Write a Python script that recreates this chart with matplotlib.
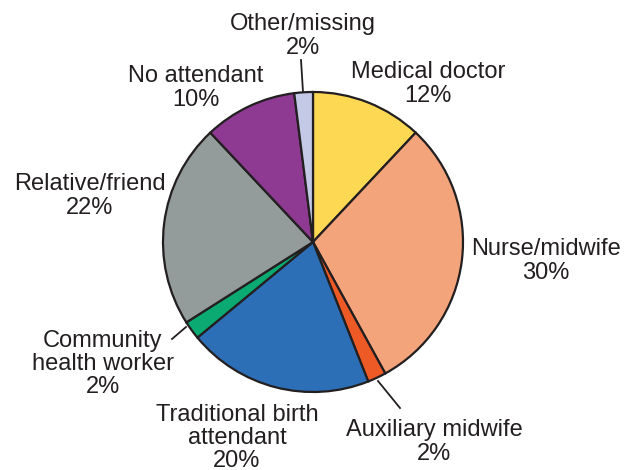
import matplotlib
matplotlib.use("Agg")
import matplotlib.pyplot as plt

labels = ["Medical doctor", "Nurse/midwife", "Auxiliary midwife",
          "Traditional birth\nattendant", "Community\nhealth worker",
          "Relative/friend", "No attendant", "Other/missing"]
shares = [12, 30, 2, 20, 2, 22, 10, 2]
colors = ["#FDD853", "#F4A47A", "#EE5A25", "#2C6FB7", "#0AAA72",
          "#939B9B", "#8E3A92", "#C4CAE6"]

# label placement in pixel coords (x, y from top)
label_pos = [(428, 84), (546, 261), (434, 442), (237, 438), (103, 364),
             (90, 196), (196, 88), (303, 36)]

W, H = 630, 470
plt.rcParams['font.family'] = ['Liberation Sans', 'DejaVu Sans']

fig = plt.figure(figsize=(6.3, 4.7), dpi=100)
ax = fig.add_axes([0, 0, 1, 1])

ax.pie(shares, colors=colors, startangle=90, counterclock=False,
       center=(313, H - 242), radius=150, frame=True,
       wedgeprops=dict(edgecolor="#231F20", linewidth=1.6))
ax.set_xlim(0, W)
ax.set_ylim(0, H)
ax.set_aspect('equal')
ax.axis('off')

for lab, s, (x, y) in zip(labels, shares, label_pos):
    ax.text(x, H - y, f"{lab}\n{s}%", ha='center', va='center',
            fontsize=17, color="#231F20", linespacing=1.07)

# leader lines
lc = dict(color="#231F20", lw=1.3)
ax.plot([301, 303], [H - 60, H - 92], **lc)
ax.plot([172, 186], [H - 339, H - 327], **lc)
ax.plot([378, 400], [H - 381, H - 408], **lc)

fig.savefig("out.png", dpi=100)
